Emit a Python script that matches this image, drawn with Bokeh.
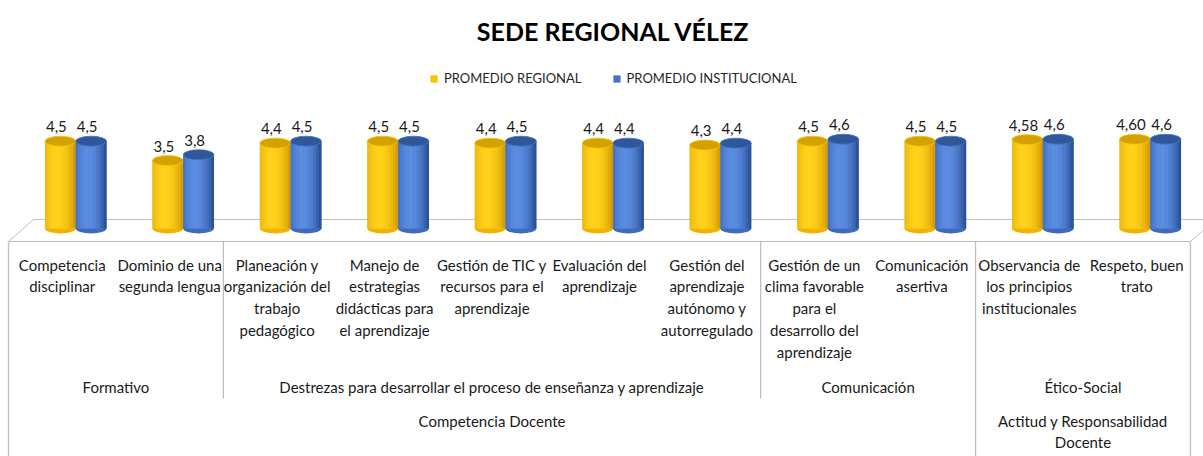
import numpy as np
from bokeh.plotting import figure
from bokeh.models import ColumnDataSource, Range1d, Legend, LegendItem
from bokeh.core.properties import value
from bokeh.embed import file_html
from bokeh.resources import INLINE

# ---------------- data ----------------
chart_title = "SEDE REGIONAL VÉLEZ"
series_names = ["PROMEDIO REGIONAL", "PROMEDIO INSTITUCIONAL"]
categories = [
    "Competencia\ndisciplinar",
    "Dominio de una\nsegunda lengua",
    "Planeación y\norganización del\ntrabajo\npedagógico",
    "Manejo de\nestrategias\ndidácticas para\nel aprendizaje",
    "Gestión de TIC y\nrecursos para el\naprendizaje",
    "Evaluación del\naprendizaje",
    "Gestión del\naprendizaje\nautónomo y\nautorregulado",
    "Gestión de un\nclima favorable\npara el\ndesarrollo del\naprendizaje",
    "Comunicación\nasertiva",
    "Observancia de\nlos principios\ninstitucionales",
    "Respeto, buen\ntrato",
]
regional = [4.5, 3.5, 4.4, 4.5, 4.4, 4.4, 4.3, 4.5, 4.5, 4.58, 4.60]
institucional = [4.5, 3.8, 4.5, 4.5, 4.5, 4.4, 4.4, 4.6, 4.5, 4.6, 4.6]
regional_labels = ["4,5", "3,5", "4,4", "4,5", "4,4", "4,4", "4,3", "4,5", "4,5", "4,58", "4,60"]
institucional_labels = ["4,5", "3,8", "4,5", "4,5", "4,5", "4,4", "4,4", "4,6", "4,5", "4,6", "4,6"]
level1_groups = ["Formativo",
                 "Destrezas para desarrollar el proceso de enseñanza y aprendizaje",
                 "Comunicación", "Ético-Social"]
level1_sizes = [2, 5, 2, 2]
level2_groups = ["Competencia Docente", "Actitud y Responsabilidad\nDocente"]
level2_sizes = [9, 2]

# ---------------- layout / style ----------------
W, H = 1203, 456
X0, SLOT = 8.0, 107.45      # px of category 0 left edge, px per category
Y0, UNIT = 228.0, 19.4      # px of value 0, px per value unit

def dx(px):
    return (px - X0) / SLOT

def dy(py):
    return (Y0 - py) / UNIT

n = len(categories)
idx = np.arange(n)
PAIR_C = 0.626
HALF = 0.143
BAR_W = 0.286
DEPTH = dx(33)
ELL_H = 10.0 / UNIT

FONT_NAME = "Lato"
FONT = value(FONT_NAME)
LINE = "#BFBFBF"
TXT = "#1a1a1a"
LH = 1.21

p = figure(width=W, height=H, x_range=Range1d(dx(0), dx(W)), y_range=Range1d(dy(H), dy(0)),
           output_backend="svg", toolbar_location=None, min_border=0,
           x_axis_location=None, y_axis_location=None, outline_line_color=None,
           background_fill_color="white", border_fill_color="white")
p.grid.visible = False

# floor
p.patch(x=[0, DEPTH, n + DEPTH, n], y=[dy(241), dy(219), dy(219), dy(241)],
        fill_color="white", line_color=LINE, line_width=1)

# table lines
b1 = list(np.cumsum(level1_sizes)[:-1])
b2 = list(np.cumsum(level2_sizes)[:-1])
full = [0, n] + b2
short = [b for b in b1 if b not in b2]
p.segment(x0=full, x1=full, y0=[dy(241)] * len(full), y1=[dy(H)] * len(full),
          line_color=LINE, line_width=1.3)
p.segment(x0=short, x1=short, y0=[dy(241)] * len(short), y1=[dy(398)] * len(short),
          line_color=LINE, line_width=1.3)

def hex2rgb(h):
    h = h.lstrip("#")
    return np.array([int(h[i:i + 2], 16) for i in (0, 2, 4)], dtype=float)

def mix(a, b, w):
    c = hex2rgb(a) * (1 - w) + hex2rgb(b) * w
    return "#%02x%02x%02x" % tuple(int(round(v)) for v in c)

NSTRIP = 12
styles = [
    dict(base="#FFC000", dark="#D09400", light="#FFD21C", top="#D4A200", bottom="#F2B300"),
    dict(base="#4472C4", dark="#24498A", light="#5B8DE3", top="#2F5799", bottom="#3F6BBA"),
]
legend_items = []
for s, (vals, labs, st, name) in enumerate(zip([regional, institucional],
                                                [regional_labels, institucional_labels],
                                                styles, series_names)):
    xc = idx + PAIR_C + (-HALF if s == 0 else HALF)
    src = ColumnDataSource(dict(x=xc, top=vals, zero=[0] * n, lab=labs))
    p.ellipse(x="x", y="zero", width=BAR_W, height=ELL_H, source=src,
              fill_color=st["bottom"], line_color=None)
    base = p.vbar(x="x", top="top", bottom="zero", width=BAR_W, source=src,
                  fill_color=st["base"], line_color=None)
    legend_items.append(LegendItem(label=name, renderers=[base]))
    for k in range(NSTRIP):
        t = (k + 0.5) / NSTRIP
        w = max(0.0, 1 - ((t - 0.4) / 0.6) ** 2)
        col = mix(st["dark"], st["light"], w)
        sx = xc - BAR_W / 2 + (k + 0.5) * BAR_W / NSTRIP
        ssrc = ColumnDataSource(dict(x=sx, top=vals))
        p.vbar(x="x", top="top", bottom=0, width=BAR_W / NSTRIP * 1.08, source=ssrc,
               fill_color=col, line_color=None)
    p.ellipse(x="x", y="top", width=BAR_W, height=ELL_H, source=src,
              fill_color=st["top"], line_color=st["base"], line_width=0.8)
    p.text(x="x", y="top", text="lab", source=src, x_offset=-4, y_offset=-9,
           text_align="center", text_baseline="bottom", text_font=FONT,
           text_font_size="15px", text_color=TXT)

# category labels
p.text(x=idx + 0.5, y=[dy(255)] * n, text=categories, text_align="center",
       text_baseline="top", text_font=FONT, text_font_size="15px",
       text_line_height=LH, text_color=TXT)

# level 1 group labels
s1 = np.concatenate([[0], np.cumsum(level1_sizes)])
p.text(x=(s1[:-1] + s1[1:]) / 2, y=[dy(386)] * len(level1_groups), text=level1_groups,
       text_align="center", text_baseline="middle", text_font=FONT,
       text_font_size="15px", text_color=TXT)

# level 2 group labels
s2 = np.concatenate([[0], np.cumsum(level2_sizes)])
p.text(x=(s2[:-1] + s2[1:]) / 2, y=[dy(411)] * len(level2_groups), text=level2_groups,
       text_align="center", text_baseline="top", text_font=FONT,
       text_font_size="15px", text_line_height=LH, text_color=TXT)

# title
p.text(x=[dx(613)], y=[dy(30)], text=[chart_title], text_align="center",
       text_baseline="middle", text_font=FONT, text_font_size="25px",
       text_font_style="bold", text_color="#000000")

legend = Legend(items=legend_items, orientation="horizontal", location=(429, 370),
                glyph_width=9, glyph_height=9, label_standoff=6, spacing=30,
                padding=0, margin=0, label_height=13, border_line_alpha=0,
                background_fill_alpha=0, label_text_font=FONT_NAME,
                label_text_font_size="13px", label_text_color="#262626")
p.add_layout(legend, "center")

open("out.html", "w").write(file_html(p, INLINE))
